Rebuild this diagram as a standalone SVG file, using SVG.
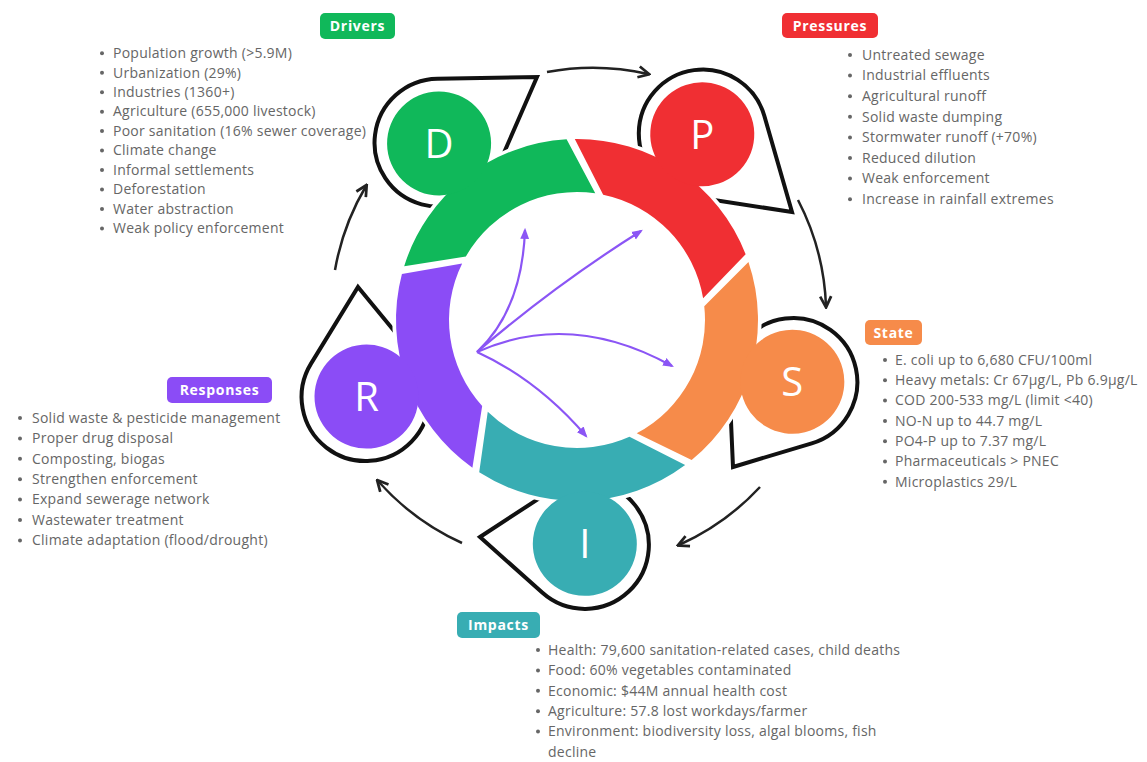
<svg xmlns="http://www.w3.org/2000/svg" xmlns:xlink="http://www.w3.org/1999/xlink" width="1147" height="762" viewBox="0 0 1147 762">
<style>
.halo{fill:#fff;stroke:#fff;stroke-width:7;stroke-linejoin:round}
.drop{fill:none;stroke:#111;stroke-width:4;stroke-linejoin:miter}
.letter{font-family:"Open Sans","Liberation Sans",sans-serif;font-size:40px;font-weight:500;fill:#fff;text-anchor:middle}
.pill-t{font-family:"Open Sans","Liberation Sans",sans-serif;font-size:14px;font-weight:700;letter-spacing:0.7px;fill:#fff;text-anchor:middle}
.item{font-family:"Open Sans","Liberation Sans",sans-serif;font-size:14px;letter-spacing:0.25px;fill:#666}
.bul{fill:#666}
.cyc{fill:none;stroke:#222;stroke-width:2.5}
.pur{fill:none;stroke:#8b55f5;stroke-width:2.2}
</style>
<defs>
<g id="petal">
<path d="M180.39,-14.83 A181 181 0 0 1 77.35,163.64 L30.53,124.30 A128 128 0 0 0 126.82,17.37 Z"/>
<circle cx="193.99" cy="112" r="52"/>
</g>
<marker id="ah" viewBox="0 0 10 10" refX="8" refY="5" markerWidth="5.5" markerHeight="5.5" orient="auto" markerUnits="strokeWidth">
<path d="M1,1 L9,5 L1,9" fill="none" stroke="#222" stroke-width="2"/>
</marker>
<marker id="ahp" viewBox="0 0 10 10" refX="8" refY="5" markerWidth="5" markerHeight="5" orient="auto" markerUnits="strokeWidth">
<path d="M0,1 L10,5 L0,9 Z" fill="#8b55f5"/>
</marker>
</defs>
<rect width="1147" height="762" fill="#fff"/>

<g id="connectors">
<path class="cyc" marker-end="url(#ah)" d="M547,72 A250 250 0 0 1 648,74"/>
<path class="cyc" marker-end="url(#ah)" d="M798,200 A250 250 0 0 1 826,306"/>
<path class="cyc" marker-end="url(#ah)" d="M760,487 A250 250 0 0 1 679,545"/>
<path class="cyc" marker-end="url(#ah)" d="M462,543 A250 250 0 0 1 378,481"/>
<path class="cyc" marker-end="url(#ah)" d="M335,270 A250 250 0 0 1 366,186"/>
</g>

<g id="node-D">
<path class="drop" d="M537,77 L497.2,168.3 A64 64 0 1 1 437.4,78.7 Z"/>
<use xlink:href="#petal" class="halo" transform="translate(577 320) rotate(202)"/>
<use xlink:href="#petal" fill="#10b85a" transform="translate(577 320) rotate(202)"/>
<text class="letter" x="439.1" y="158">D</text>
</g>
<g id="node-P">
<path class="drop" d="M792,212 L693.1,196.8 A64 64 0 1 1 764.3,115.8 Z"/>
<use xlink:href="#petal" class="halo" transform="translate(577 320) rotate(-86)"/>
<use xlink:href="#petal" fill="#f02f33" transform="translate(577 320) rotate(-86)"/>
<text class="letter" x="702.3" y="149">P</text>
</g>
<g id="node-S">
<path class="drop" d="M733,467 L729.4,384.8 A64 64 0 1 1 811.7,443.3 Z"/>
<use xlink:href="#petal" class="halo" transform="translate(577 320) rotate(-14)"/>
<use xlink:href="#petal" fill="#f68b4a" transform="translate(577 320) rotate(-14)"/>
<text class="letter" x="792.3" y="396">S</text>
</g>
<g id="node-I">
<path class="drop" d="M480,537 L549.9,491.3 A64 64 0 1 1 542.2,592.6 Z"/>
<use xlink:href="#petal" class="halo" transform="translate(577 320) rotate(58)"/>
<use xlink:href="#petal" fill="#38adb3" transform="translate(577 320) rotate(58)"/>
<text class="letter" x="584.8" y="558">I</text>
</g>
<g id="node-R">
<path class="drop" d="M358,287 L415.0,356.3 A64 64 0 1 1 311.0,363.6 Z"/>
<use xlink:href="#petal" class="halo" transform="translate(577 320) rotate(130)"/>
<use xlink:href="#petal" fill="#8b4cf6" transform="translate(577 320) rotate(130)"/>
<text class="letter" x="366.5" y="411">R</text>
</g>

<g id="inner-links">
<path class="pur" marker-end="url(#ahp)" d="M477,352 Q522,310 525,230"/>
<path class="pur" marker-end="url(#ahp)" d="M477,352 Q555,285 641,231"/>
<path class="pur" marker-end="url(#ahp)" d="M477,352 Q571,310 672,366"/>
<path class="pur" marker-end="url(#ahp)" d="M477,352 Q538,380 586,436"/>
</g>

<g id="label-drivers">
<rect x="320" y="13" width="75" height="26" rx="5" fill="#10b85a"/>
<text class="pill-t" x="357.5" y="31">Drivers</text>
<g class="bul"><circle cx="102" cy="53.3" r="2"/><circle cx="102" cy="72.8" r="2"/><circle cx="102" cy="92.2" r="2"/><circle cx="102" cy="111.7" r="2"/><circle cx="102" cy="131.1" r="2"/><circle cx="102" cy="150.6" r="2"/><circle cx="102" cy="170" r="2"/><circle cx="102" cy="189.5" r="2"/><circle cx="102" cy="208.9" r="2"/><circle cx="102" cy="228.4" r="2"/></g>
<text class="item" x="113" y="58">Population growth (&gt;5.9M)</text>
<text class="item" x="113" y="77.5">Urbanization (29%)</text>
<text class="item" x="113" y="96.9">Industries (1360+)</text>
<text class="item" x="113" y="116.4">Agriculture (655,000 livestock)</text>
<text class="item" x="113" y="135.8">Poor sanitation (16% sewer coverage)</text>
<text class="item" x="113" y="155.3">Climate change</text>
<text class="item" x="113" y="174.7">Informal settlements</text>
<text class="item" x="113" y="194.2">Deforestation</text>
<text class="item" x="113" y="213.6">Water abstraction</text>
<text class="item" x="113" y="233.1">Weak policy enforcement</text>
</g>

<g id="label-pressures">
<rect x="782" y="13" width="96" height="25" rx="5" fill="#f02f33"/>
<text class="pill-t" x="830" y="30.5">Pressures</text>
<g class="bul"><circle cx="850" cy="55" r="2"/><circle cx="850" cy="75.6" r="2"/><circle cx="850" cy="96.2" r="2"/><circle cx="850" cy="116.8" r="2"/><circle cx="850" cy="137.4" r="2"/><circle cx="850" cy="158" r="2"/><circle cx="850" cy="178.6" r="2"/><circle cx="850" cy="199.2" r="2"/></g>
<text class="item" x="862" y="59.7">Untreated sewage</text>
<text class="item" x="862" y="80.3">Industrial effluents</text>
<text class="item" x="862" y="100.9">Agricultural runoff</text>
<text class="item" x="862" y="121.5">Solid waste dumping</text>
<text class="item" x="862" y="142.1">Stormwater runoff (+70%)</text>
<text class="item" x="862" y="162.7">Reduced dilution</text>
<text class="item" x="862" y="183.3">Weak enforcement</text>
<text class="item" x="862" y="203.9">Increase in rainfall extremes</text>
</g>

<g id="label-state">
<rect x="865" y="320" width="57" height="25" rx="5" fill="#f68b4a"/>
<text class="pill-t" x="893.5" y="337.5">State</text>
<g class="bul"><circle cx="885" cy="360" r="2"/><circle cx="885" cy="380.3" r="2"/><circle cx="885" cy="400.6" r="2"/><circle cx="885" cy="420.9" r="2"/><circle cx="885" cy="441.2" r="2"/><circle cx="885" cy="461.5" r="2"/><circle cx="885" cy="481.8" r="2"/></g>
<text class="item" x="895" y="364.7">E. coli up to 6,680 CFU/100ml</text>
<text class="item" x="895" y="385">Heavy metals: Cr 67μg/L, Pb 6.9μg/L</text>
<text class="item" x="895" y="405.3">COD 200-533 mg/L (limit &lt;40)</text>
<text class="item" x="895" y="425.6">NO-N up to 44.7 mg/L</text>
<text class="item" x="895" y="445.9">PO4-P up to 7.37 mg/L</text>
<text class="item" x="895" y="466.2">Pharmaceuticals &gt; PNEC</text>
<text class="item" x="895" y="486.5">Microplastics 29/L</text>
</g>

<g id="label-responses">
<rect x="167" y="377" width="105" height="26" rx="5" fill="#8b4cf6"/>
<text class="pill-t" x="219.5" y="395">Responses</text>
<g class="bul"><circle cx="20" cy="418" r="2"/><circle cx="20" cy="438.4" r="2"/><circle cx="20" cy="458.8" r="2"/><circle cx="20" cy="479.2" r="2"/><circle cx="20" cy="499.6" r="2"/><circle cx="20" cy="520" r="2"/><circle cx="20" cy="540.4" r="2"/></g>
<text class="item" x="32" y="422.7">Solid waste &amp; pesticide management</text>
<text class="item" x="32" y="443.1">Proper drug disposal</text>
<text class="item" x="32" y="463.5">Composting, biogas</text>
<text class="item" x="32" y="483.9">Strengthen enforcement</text>
<text class="item" x="32" y="504.3">Expand sewerage network</text>
<text class="item" x="32" y="524.7">Wastewater treatment</text>
<text class="item" x="32" y="545.1">Climate adaptation (flood/drought)</text>
</g>

<g id="label-impacts">
<rect x="457" y="612" width="83" height="26" rx="5" fill="#38adb3"/>
<text class="pill-t" x="498.5" y="630">Impacts</text>
<g class="bul"><circle cx="538" cy="650" r="2"/><circle cx="538" cy="670.4" r="2"/><circle cx="538" cy="690.8" r="2"/><circle cx="538" cy="711.2" r="2"/><circle cx="538" cy="731.6" r="2"/></g>
<text class="item" x="548" y="654.7">Health: 79,600 sanitation-related cases, child deaths</text>
<text class="item" x="548" y="675.1">Food: 60% vegetables contaminated</text>
<text class="item" x="548" y="695.5">Economic: $44M annual health cost</text>
<text class="item" x="548" y="715.9">Agriculture: 57.8 lost workdays/farmer</text>
<text class="item" x="548" y="736.3">Environment: biodiversity loss, algal blooms, fish</text>
<text class="item" x="548" y="756.7">decline</text>
</g>
</svg>
